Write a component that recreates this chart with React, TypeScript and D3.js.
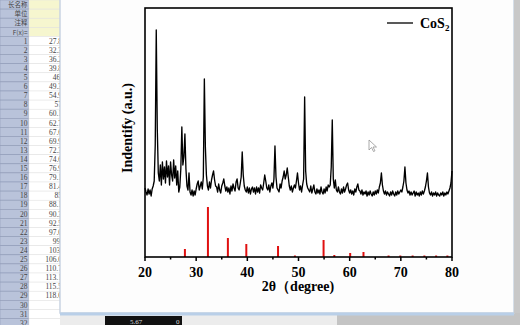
import React from 'react';
import * as d3 from 'd3';

// XRD pattern (2θ from 20° in 0.2° steps), intensity in plot units
const TWO_THETA_START = 20;
const TWO_THETA_STEP = 0.2;
const xrdIntensity = [
  69, 65, 62, 68, 63, 67, 61, 68, 71, 76,
  112, 227, 128, 84, 76, 92, 72, 95, 78, 90,
  74, 96, 80, 91, 72, 95, 82, 76, 97, 79,
  91, 72, 86, 65, 70, 88, 130, 92, 100, 123,
  88, 71, 67, 84, 65, 62, 67, 61, 66, 62,
  68, 73, 76, 67, 71, 75, 68, 80, 178, 110,
  82, 71, 67, 75, 69, 77, 82, 86, 77, 71,
  70, 65, 73, 67, 64, 71, 74, 78, 71, 66,
  70, 65, 69, 63, 71, 66, 73, 69, 66, 75,
  78, 69, 67, 73, 80, 105, 82, 71, 67, 65,
  70, 64, 69, 63, 68, 70, 65, 69, 63, 70,
  65, 69, 64, 72, 69, 67, 74, 82, 76, 69,
  67, 72, 65, 71, 74, 69, 78, 111, 80, 69,
  67, 65, 73, 69, 76, 80, 86, 78, 82, 89,
  80, 71, 67, 71, 65, 69, 72, 69, 76, 84,
  74, 67, 71, 65, 72, 78, 160, 86, 73, 69,
  67, 65, 71, 64, 68, 72, 65, 63, 68, 64,
  67, 63, 70, 65, 63, 68, 64, 70, 66, 72,
  70, 72, 90, 137, 78, 69, 77, 67, 65, 70,
  65, 63, 68, 64, 70, 65, 68, 72, 74, 67,
  64, 67, 63, 66, 62, 68, 65, 70, 73, 67,
  66, 63, 67, 62, 65, 63, 66, 61, 65, 62,
  66, 63, 61, 65, 62, 66, 63, 67, 64, 70,
  74, 84, 72, 66, 63, 66, 62, 65, 63, 61,
  65, 62, 66, 63, 61, 65, 62, 66, 63, 65,
  67, 65, 70, 76, 90, 74, 67, 64, 66, 62,
  65, 62, 64, 66, 61, 65, 62, 64, 61, 65,
  62, 66, 63, 66, 70, 76, 84, 70, 64, 62,
  65, 61, 64, 62, 65, 61, 64, 62, 61, 64,
  62, 65, 61, 64, 62, 65, 63, 66, 69, 74,
  86,
];

// Reference (standard card) CoS2 lines
const refPositions = [27.8, 32.3, 36.2, 39.8, 46.0, 49.3, 54.9, 57.0, 60.1, 62.7, 67.6, 69.9, 72.3, 74.6, 76.9, 79.1];
const refIntensity = [8, 50, 19, 13, 11, 1.5, 17, 2, 4, 5, 1.5, 1.5, 1.5, 1.5, 1.5, 1.5];

const xTicks = [20, 30, 40, 50, 60, 70, 80];
const xMinorTicks = [25, 35, 45, 55, 65, 75];
const legendLabel = 'CoS';
const legendSub = '2';
const xTitle = '2θ（degree)';
const yTitle = 'Indentify (a.u.)';

// Spreadsheet behind the graph window
const sheetHeaders = ['长名称', '单位', '注释', 'F(x)='];
const sheetValues = ['27.8', '32.3', '36.2', '39.8', '46.', '49.3', '54.9', '57', '60.1', '62.7', '67.6', '69.9', '72.3', '74.6', '76.9', '79.1', '81.4', '85', '88.1', '90.3', '92.5', '97.0', '99.', '103.', '106.0', '110.7', '113.1', '115.5', '118.0'];
const sheetRowCount = 32;

const serif = '"Liberation Serif", "Times New Roman", serif';

export default function App() {
  const W = 520, H = 325;
  const x = d3.scaleLinear().domain([20, 80]).range([145, 452]);
  const y = d3.scaleLinear().domain([0, 249]).range([257, 8]);
  const line = d3
    .line<number>()
    .x((_, i) => x(TWO_THETA_START + i * TWO_THETA_STEP))
    .y((d) => y(d));

  const rowH = 9.1;
  const rows: { label: string; value: string; header: boolean }[] = [];
  sheetHeaders.forEach((h) => rows.push({ label: h, value: '', header: true }));
  for (let i = 1; i <= sheetRowCount; i++) {
    rows.push({ label: String(i), value: sheetValues[i - 1] || '', header: false });
  }

  return (
    <svg width={W} height={H} style={{ position: 'absolute', left: 0, top: 0 }}>
      <defs>
        <clipPath id="sheetClip">
          <rect x={0} y={0} width={60} height={H} />
        </clipPath>
      </defs>
      {/* bottom area background */}
      <rect x={0} y={0} width={W} height={H} fill="#c4c4c4" />
      <rect x={60} y={313} width={277} height={12} fill="#ececec" />
      {/* spreadsheet */}
      <g clipPath="url(#sheetClip)" fontSize={8}>
        {rows.map((r, i) => (
          <g key={i}>
            <rect x={0} y={i * rowH} width={29} height={rowH} fill="#b9c3da" stroke="#909cb8" strokeWidth={0.6} />
            <rect x={29} y={i * rowH} width={40} height={rowH} fill={r.header ? '#f6f6cf' : '#ffffff'} stroke="#e4e4e4" strokeWidth={0.5} />
            <text
              x={27.5}
              y={i * rowH + 7.2}
              textAnchor="end"
              fill="#444"
              fontFamily={r.header ? '"Noto Sans CJK SC", sans-serif' : serif}
              fontSize={r.header ? 6.5 : 7.5}
            >
              {r.label}
            </text>
            {r.value && (
              <text x={62} y={i * rowH + 7.2} textAnchor="end" fill="#444" fontFamily={serif} fontSize={7.5}>
                {r.value}
              </text>
            )}
          </g>
        ))}
      </g>
      {/* status bar black box */}
      <rect x={105} y={316} width={77} height={9} fill="#111" />
      <text x={130} y={324} fill="#ddd" fontSize={7} fontFamily={serif}>5.67</text>
      <text x={176} y={324} fill="#ddd" fontSize={7} fontFamily={serif}>0</text>
      {/* graph window */}
      <rect x={60} y={-2} width={454} height={315} fill="#fdfdfd" stroke="#c9d4e2" strokeWidth={1.5} />
      <rect x={60} y={312.5} width={454} height={3} fill="#b9cfe8" />
      <rect x={514} y={0} width={6} height={313} fill="#c8c8c8" />

      {/* plot area */}
      <rect x={145} y={8} width={307} height={249} fill="#ffffff" />

      {/* reference bars */}
      {refPositions.map((p, i) => (
        <line
          key={'r' + i}
          x1={x(p)}
          x2={x(p)}
          y1={y(0)}
          y2={y(refIntensity[i])}
          stroke="#e01010"
          strokeWidth={2}
        />
      ))}

      {/* XRD line */}
      <path d={line(xrdIntensity) || ''} fill="none" stroke="#000" strokeWidth={1.35} strokeLinejoin="round" />

      {/* frame */}
      <rect x={145} y={8} width={307} height={249} fill="none" stroke="#000" strokeWidth={1.6} />

      {/* ticks */}
      {xTicks.map((t) => (
        <g key={'t' + t}>
          <line x1={x(t)} x2={x(t)} y1={257} y2={261} stroke="#000" strokeWidth={1.5} />
          <text x={x(t)} y={277} textAnchor="middle" fontFamily={serif} fontWeight="bold" fontSize={14} fill="#000">
            {t}
          </text>
        </g>
      ))}
      {xMinorTicks.map((t) => (
        <line key={'m' + t} x1={x(t)} x2={x(t)} y1={257} y2={259.5} stroke="#000" strokeWidth={1.5} />
      ))}

      {/* axis titles */}
      <text x={298} y={291} textAnchor="middle" fontFamily={serif} fontWeight="bold" fontSize={14} fill="#000">
        {xTitle}
      </text>
      <text
        transform="translate(132,128) rotate(-90)"
        textAnchor="middle"
        fontFamily={serif}
        fontWeight="bold"
        fontSize={14}
        fill="#000"
      >
        {yTitle}
      </text>

      {/* legend */}
      <line x1={387} x2={413} y1={23} y2={23} stroke="#222" strokeWidth={1.5} />
      <text x={420} y={28} fontFamily={serif} fontWeight="bold" fontSize={14} fill="#000">
        {legendLabel}
        <tspan fontSize={9} dy={3}>{legendSub}</tspan>
      </text>

      {/* mouse cursor */}
      <path d="M369,140 L369,150 L371.5,147.5 L373.5,151.5 L375,150.8 L373,147 L376.5,147 Z" fill="#fff" stroke="#888" strokeWidth={0.7} />
    </svg>
  );
}
